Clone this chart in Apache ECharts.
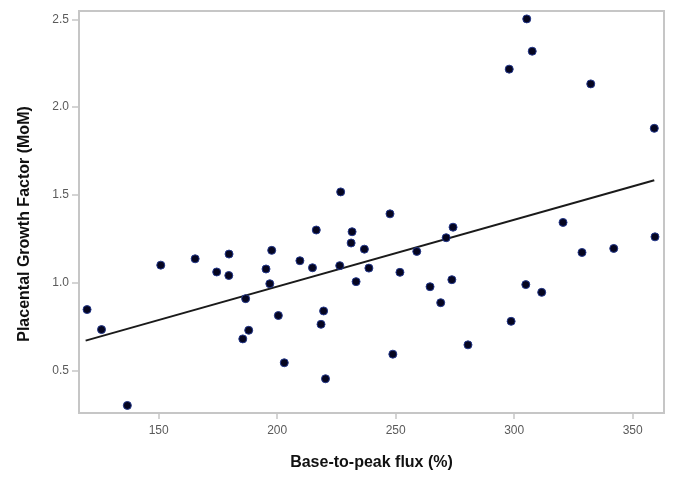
<!DOCTYPE html>
<html>
<head>
<meta charset="utf-8">
<style>
  html, body {
    margin: 0;
    padding: 0;
    background: #fff;
  }
  #main {
    width: 680px;
    height: 477px;
  }
</style>
<script src="https://cdn.jsdelivr.net/npm/echarts@6/dist/echarts.min.js"></script>
</head>
<body>
<div id="main"></div>
<script>
// base-to-peak flux (%) for each patient
var flux = [119.8, 125.9, 136.8, 150.9, 165.4, 174.5, 179.7, 179.6, 186.7, 185.5,
  188.0, 195.3, 197.7, 196.9, 200.5, 203.0, 209.6, 214.9, 216.5, 219.6,
  218.5, 220.4, 226.8, 226.4, 231.6, 231.2, 233.3, 236.8, 238.7, 247.6,
  248.8, 251.8, 258.9, 264.5, 269.0, 271.3, 274.2, 273.7, 280.5, 298.7,
  304.9, 311.6, 320.6, 328.6, 342.0, 359.4, 305.3, 307.6, 297.9, 332.3,
  359.1]
// PlGF (MoM), same order
var plgf = [0.847, 0.733, 0.301, 1.10, 1.136, 1.061, 1.163, 1.041, 0.909, 0.680,
  0.729, 1.078, 1.184, 0.994, 0.813, 0.544, 1.125, 1.085, 1.30, 0.839,
  0.763, 0.453, 1.517, 1.097, 1.290, 1.226, 1.006, 1.191, 1.083, 1.392,
  0.593, 1.059, 1.178, 0.977, 0.886, 1.256, 1.316, 1.017, 0.646, 0.780,
  0.989, 0.945, 1.343, 1.172, 1.195, 1.261, 2.502, 2.318, 2.216, 2.132,
  1.879]
// fitted line
var fitX = [119.2, 359.1]
var fitY = [0.670, 1.583]

var xTicks = [150, 200, 250, 300, 350]
var yTicks = [0.5, 1.0, 1.5, 2.0, 2.5]

var points = []
for (var i = 0; i < flux.length; i++) {
  points.push([flux[i], plgf[i]])
}
var fitLine = []
for (var j = 0; j < fitX.length; j++) {
  fitLine.push([fitX[j], fitY[j]])
}

var axisGrey = '#c6c6c6'
var labelGrey = '#5a5a5a'
var font = 'Liberation Sans, Arial, sans-serif'

var option = {
  animation: false,
  grid: {
    left: 79,
    right: 16,
    top: 11,
    bottom: 64,
    show: true,
    borderColor: axisGrey,
    borderWidth: 2
  },
  xAxis: {
    type: 'value',
    min: 116.4,
    max: 363.2,
    name: 'Base-to-peak flux (%)',
    nameLocation: 'middle',
    nameGap: 42,
    nameTextStyle: {
      fontFamily: font,
      fontSize: 16,
      fontWeight: 'bold',
      color: '#111'
    },
    axisLine: {
      lineStyle: { color: axisGrey, width: 2 }
    },
    axisTick: {
      customValues: xTicks,
      length: 6,
      lineStyle: { color: axisGrey, width: 1.5 }
    },
    axisLabel: {
      customValues: xTicks,
      margin: 12,
      fontFamily: font,
      fontSize: 12,
      color: labelGrey
    },
    splitLine: { show: false }
  },
  yAxis: {
    type: 'value',
    min: 0.258,
    max: 2.547,
    name: 'Placental Growth Factor (MoM)',
    nameLocation: 'middle',
    nameGap: 46,
    nameTextStyle: {
      fontFamily: font,
      fontSize: 16,
      fontWeight: 'bold',
      color: '#111',
      padding: [0, 0, 0, -24]
    },
    axisLine: {
      show: true,
      lineStyle: { color: axisGrey, width: 2 }
    },
    axisTick: {
      show: true,
      customValues: yTicks,
      length: 7,
      lineStyle: { color: axisGrey, width: 1.5 }
    },
    axisLabel: {
      customValues: yTicks,
      margin: 10,
      fontFamily: font,
      fontSize: 12,
      color: labelGrey,
      formatter: function (v) {
        return v.toFixed(1)
      }
    },
    splitLine: { show: false }
  },
  series: [{
    name: 'fit',
    type: 'line',
    data: fitLine,
    showSymbol: false,
    symbol: 'none',
    z: 2,
    lineStyle: { color: '#1a1a1a', width: 2 }
  }, {
    name: 'patients',
    type: 'scatter',
    data: points,
    symbolSize: 8,
    z: 3,
    itemStyle: {
      color: '#050520',
      borderColor: '#23378a',
      borderWidth: 1,
      opacity: 1
    }
  }]
}

var myChart = echarts.init(document.getElementById('main'), null, { renderer: 'canvas' })
myChart.setOption(option)
</script>
</body>
</html>
